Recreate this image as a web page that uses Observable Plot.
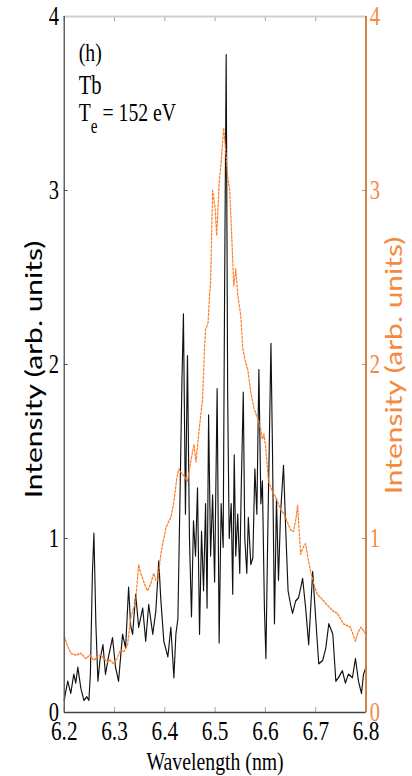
<!DOCTYPE html>
<html><head><meta charset="utf-8">
<script src="https://cdn.jsdelivr.net/npm/d3@7"></script>
<script src="https://cdn.jsdelivr.net/npm/@observablehq/plot@0.6"></script>
<style>html,body{margin:0;padding:0;background:#fff;overflow:hidden}</style>
</head><body><div id="chart"></div>
<script>
// Black spectrum (left axis)
const blackWavelength = [6.200,6.203,6.207,6.213,6.219,6.223,6.227,6.233,6.239,6.245,6.249,6.252,6.256,6.259,6.263,6.267,6.271,6.277,6.282,6.288,6.296,6.302,6.308,6.316,6.322,6.328,6.332,6.336,6.342,6.348,6.356,6.362,6.368,6.376,6.382,6.388,6.392,6.398,6.406,6.412,6.418,6.422,6.426,6.430,6.434,6.437,6.441,6.445,6.449,6.453,6.457,6.461,6.465,6.469,6.473,6.477,6.481,6.484,6.487,6.491,6.495,6.499,6.504,6.508,6.512,6.516,6.519,6.522,6.525,6.528,6.532,6.535,6.538,6.541,6.545,6.549,6.552,6.556,6.559,6.563,6.566,6.571,6.575,6.579,6.583,6.587,6.591,6.594,6.598,6.601,6.604,6.608,6.611,6.614,6.618,6.622,6.626,6.630,6.636,6.640,6.645,6.650,6.654,6.660,6.666,6.674,6.680,6.686,6.694,6.700,6.706,6.714,6.720,6.726,6.734,6.740,6.745,6.753,6.759,6.765,6.773,6.779,6.785,6.791,6.795,6.800];
const blackIntensity = [0.07,0.12,0.18,0.11,0.22,0.17,0.26,0.14,0.07,0.09,0.07,0.22,0.80,1.03,0.50,0.18,0.30,0.39,0.22,0.32,0.43,0.26,0.18,0.45,0.37,0.72,0.50,0.45,0.68,0.49,0.60,0.41,0.62,0.45,0.58,0.87,0.65,0.41,0.32,0.49,0.20,0.45,0.54,1.21,1.90,2.29,1.14,2.05,1.00,0.55,1.10,0.90,1.29,0.45,1.04,0.70,1.20,0.60,1.71,0.90,1.25,0.75,1.86,0.40,1.20,0.95,2.50,3.78,1.80,1.00,1.20,0.68,1.48,0.90,1.14,0.80,1.30,1.84,1.00,0.80,1.12,0.85,0.89,1.40,1.14,1.97,1.20,1.33,0.60,0.31,0.90,1.60,2.12,1.52,0.51,1.23,0.76,1.14,1.42,1.08,0.70,0.62,0.57,0.64,0.66,0.77,0.60,0.39,0.81,0.54,0.28,0.30,0.37,0.51,0.45,0.18,0.20,0.24,0.17,0.22,0.20,0.31,0.18,0.11,0.22,0.26];
// Orange spectrum (right axis)
const orangeWavelength = [6.200,6.207,6.213,6.223,6.233,6.243,6.251,6.259,6.266,6.272,6.279,6.286,6.292,6.298,6.305,6.312,6.319,6.326,6.332,6.338,6.342,6.348,6.352,6.356,6.362,6.366,6.372,6.378,6.382,6.386,6.392,6.398,6.402,6.408,6.412,6.418,6.424,6.428,6.432,6.438,6.445,6.452,6.458,6.462,6.468,6.475,6.479,6.481,6.486,6.489,6.491,6.495,6.500,6.503,6.508,6.513,6.517,6.521,6.525,6.529,6.533,6.537,6.541,6.545,6.551,6.555,6.560,6.565,6.571,6.577,6.583,6.587,6.591,6.594,6.597,6.600,6.606,6.614,6.620,6.624,6.630,6.637,6.643,6.650,6.656,6.661,6.664,6.667,6.670,6.675,6.680,6.685,6.690,6.697,6.703,6.710,6.716,6.722,6.729,6.736,6.743,6.749,6.755,6.762,6.769,6.774,6.779,6.784,6.790,6.795,6.800];
const orangeIntensity = [0.44,0.38,0.34,0.33,0.34,0.31,0.33,0.30,0.32,0.33,0.31,0.29,0.30,0.28,0.31,0.36,0.35,0.39,0.54,0.60,0.64,0.85,0.80,0.77,0.72,0.70,0.74,0.80,0.76,0.76,0.91,1.00,1.06,1.10,1.12,1.21,1.35,1.40,1.38,1.36,1.33,1.45,1.54,1.44,1.62,1.80,2.10,2.20,2.24,2.40,2.47,3.00,2.90,2.74,3.04,3.20,3.36,3.23,3.08,3.00,2.74,2.45,2.55,2.40,2.28,2.09,2.02,1.97,1.84,1.75,1.70,1.67,1.62,1.57,1.60,1.54,1.33,1.27,1.24,1.21,1.17,1.14,1.10,1.05,1.04,1.12,1.19,1.05,0.91,0.95,0.97,0.88,0.81,0.73,0.68,0.66,0.64,0.62,0.60,0.58,0.57,0.54,0.51,0.50,0.49,0.45,0.41,0.46,0.49,0.47,0.45];
const xTicks = [6.2,6.3,6.4,6.5,6.6,6.7,6.8];
const yTicks = [0,1,2,3,4];
const xTitle = "Wavelength (nm)";
const yTitle = "Intensity (arb. units)";
const panelLabel = "(h)";
const elementLabel = "Tb";
const tempLabel = "Te = 152 eV";

const black = blackWavelength.map((w, i) => ({w, v: blackIntensity[i]}));
const orange = orangeWavelength.map((w, i) => ({w, v: orangeIntensity[i]}));

const W = 542, H = 776, OUTW = 412;
const mL = 84, mR = 61, mT = 16, mB = 64;
const fw = W - mL - mR, fh = H - mT - mB;
const orangeText = "#f7883d";
const orangeAxis = "#c97b3f";

const svg = Plot.plot({
  width: W, height: H,
  marginLeft: mL, marginRight: mR, marginTop: mT, marginBottom: mB,
  style: {fontFamily: "'Liberation Serif', serif", fontSize: "28px", background: "white", overflow: "visible"},
  x: {domain: [6.2, 6.8]},
  y: {domain: [0, 4]},
  marks: [
    Plot.line(black, {x: "w", y: "v", stroke: "#111", strokeWidth: 1.5}),
    Plot.line(orange, {x: "w", y: "v", stroke: "#ff7f2a", strokeWidth: 1.6, strokeDasharray: "2,2"}),
    Plot.tickX(xTicks, {x: d => d, stroke: "#999", insetTop: fh - 5}),
    Plot.tickX(xTicks, {x: d => d, stroke: "#999", insetBottom: fh - 5}),
    Plot.tickY(yTicks, {y: d => d, stroke: "#333", insetRight: fw - 5}),
    Plot.tickY(yTicks, {y: d => d, stroke: orangeAxis, insetLeft: fw - 5}),
    Plot.ruleY([4], {stroke: "#cfcfcf", strokeWidth: 2}),
    Plot.ruleY([0], {stroke: "#444", strokeWidth: 1.6}),
    Plot.ruleX([6.2], {stroke: "#555", strokeWidth: 1.8}),
    Plot.ruleX([6.8], {stroke: orangeAxis, strokeWidth: 2.4}),
    Plot.axisX({ticks: xTicks, tickSize: 0, tickPadding: 8, label: null, fontSize: 28, tickFormat: d => d.toFixed(1)}),
    Plot.axisY({ticks: yTicks, tickSize: 0, tickPadding: 7, label: null, fontSize: 27, anchor: "left", tickFormat: d => String(d)}),
    Plot.axisY({ticks: yTicks, tickSize: 0, tickPadding: 5, label: null, fontSize: 27, anchor: "right", fill: orangeText, tickFormat: d => String(d)}),
    Plot.text([xTitle], {frameAnchor: "bottom", textAnchor: "middle", lineAnchor: "bottom", dy: 57, fontSize: 26}),
    Plot.text([yTitle], {frameAnchor: "left", textAnchor: "middle", rotate: -90, lineAnchor: "bottom", dx: -29, dy: 5, fontSize: 30, fontFamily: "Lato"}),
    Plot.text([yTitle], {frameAnchor: "right", textAnchor: "middle", rotate: -90, lineAnchor: "bottom", dx: 48, dy: 1, fontSize: 30, fontFamily: "Lato", fill: orangeText}),
    Plot.text([panelLabel], {frameAnchor: "top-left", textAnchor: "start", lineAnchor: "bottom", dx: 19, dy: 44, fontSize: 26}),
    Plot.text([elementLabel], {frameAnchor: "top-left", textAnchor: "start", lineAnchor: "bottom", dx: 19, dy: 77, fontSize: 27}),
    Plot.text([tempLabel], {frameAnchor: "top-left", textAnchor: "start", lineAnchor: "bottom", dx: 19, dy: 104, fontSize: 26})
  ]
});

// subscript "e" in Te
d3.select(svg).selectAll("text").each(function () {
  if (this.textContent === tempLabel) {
    const t = d3.select(this);
    t.text(null);
    t.append("tspan").text("T");
    t.append("tspan").attr("dy", 12).attr("font-size", 20).text("e");
    t.append("tspan").attr("dy", -12).text(" = 152 eV");
  }
});

// horizontally condensed rendering as in the reference
svg.setAttribute("width", OUTW);
svg.setAttribute("preserveAspectRatio", "none");
svg.style.width = OUTW + "px";
svg.style.height = H + "px";
svg.style.maxWidth = "none";
document.getElementById("chart").appendChild(svg);
</script>
</body></html>
